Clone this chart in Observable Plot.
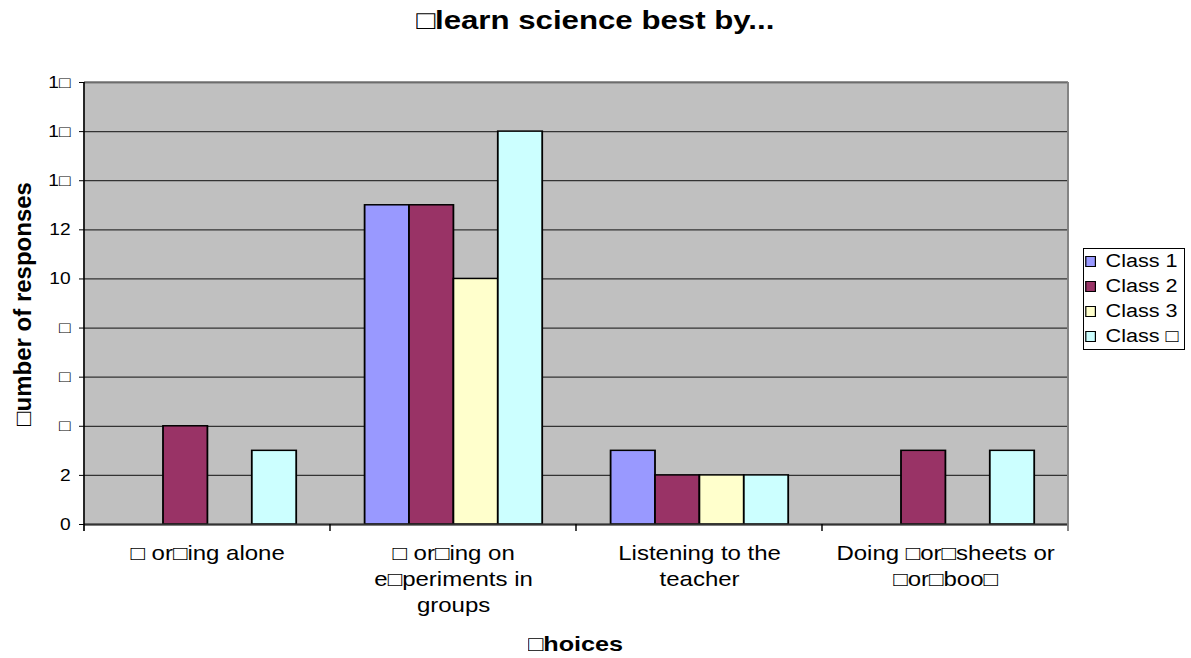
<!DOCTYPE html>
<html>
<head>
<meta charset="utf-8">
<script src="https://cdn.jsdelivr.net/npm/d3@7"></script>
<script src="https://cdn.jsdelivr.net/npm/@observablehq/plot@0.6"></script>
<style>
  body { margin: 0; background: #fff; font-family: "Liberation Sans", Arial, sans-serif; }
  #wrap { position: relative; width: 1191px; height: 658px; overflow: hidden; }
  #wrap svg { position: absolute; left: 0; top: 0; }
  .stretch { display: inline-block; transform: scaleX(1.2); }
  #title { position: absolute; left: 0; top: 7px; width: 1191px; text-align: center;
           font-weight: bold; font-size: 26px; line-height: 26px; color: #000; }
  #xtitle { position: absolute; left: 476px; top: 633px; width: 200px; text-align: center;
            font-weight: bold; font-size: 21px; line-height: 21px; color: #000; }
  #ytitle { position: absolute; left: -177px; top: 292px; width: 400px; text-align: center;
            font-weight: bold; font-size: 24px; line-height: 24px; color: #000;
            transform: rotate(-90deg); transform-origin: 50% 50%; }
  #legend { position: absolute; left: 1083px; top: 248px; width: 100px; height: 100px;
            border: 1px solid #000; background: #fff; overflow: hidden; }
  #legend .inner { transform: scaleX(1.2); transform-origin: 0 0; width: 84px; }
  #legend .row { height: 25px; line-height: 25px; font-size: 18px; white-space: nowrap;
                 display: flex; align-items: center; }
  #legend .sw { width: 7px; height: 9px; border: 1px solid #000; margin-left: 1px; margin-right: 8px; flex: none; }
</style>
</head>
<body>
<div id="wrap">
  <div id="title"><span class="stretch"></span></div>
  <div id="ytitle"></div>
  <div id="xtitle"><span class="stretch"></span></div>
  <div id="legend"><div class="inner"></div></div>
</div>
<script>
// ---- data ----
const titleText = "\u25A1learn science best by...";
const yTitle = "\u25A1umber of responses";
const xTitle = "\u25A1hoices";
const categories = [
  "\u25A1 or\u25A1ing alone",
  "\u25A1 or\u25A1ing on\ne\u25A1periments in\ngroups",
  "Listening to the\nteacher",
  "Doing \u25A1or\u25A1sheets or\n\u25A1or\u25A1boo\u25A1"
];
const classes = ["Class 1", "Class 2", "Class 3", "Class \u25A1"];
const class1 = [0, 13, 3, 0];
const class2 = [4, 13, 2, 3];
const class3 = [0, 10, 2, 0];
const class4 = [3, 16, 2, 3];
const colors = ["#9999FF", "#993366", "#FFFFCC", "#CCFFFF"];
const yTicks = [0, 2, 4, 6, 8, 10, 12, 14, 16, 18];
const yTickLabels = ["0", "2", "\u25A1", "\u25A1", "\u25A1", "10", "12", "1\u25A1", "1\u25A1", "1\u25A1"];

// ---- build ----
const series = [class1, class2, class3, class4];
const rows = categories.flatMap((c, i) => classes.map((k, j) => ({category: c, cls: k, value: series[j][i]})));

const S = 1.2;              // horizontal stretch of the original picture
const W = 1191 / S;
const ML = 83 / S, MR = (1191 - 1069) / S;

const chart = Plot.plot({
  width: W,
  height: 658,
  marginLeft: ML,
  marginRight: MR,
  marginTop: 82,
  marginBottom: 134,
  style: {fontFamily: "'Liberation Sans', Arial, sans-serif", background: "transparent", color: "#000", overflow: "visible"},
  fx: {domain: categories, padding: 0},
  x: {domain: classes, paddingInner: 0, paddingOuter: 0.74, axis: null},
  y: {domain: [0, 18], label: null},
  color: {domain: classes, range: colors},
  marks: [
    Plot.frame({fill: "#C0C0C0", facet: "super"}),
    Plot.gridY(yTicks, {stroke: "#333", strokeOpacity: 1, strokeWidth: 1.3}),
    Plot.barY(rows, {fx: "category", x: "cls", y: "value", fill: "cls", stroke: "#000", strokeWidth: 1.5,
                     filter: d => d.value > 0}),
    Plot.ruleY([0], {stroke: "#333", strokeWidth: 1.8}),
    Plot.axisY({ticks: yTicks, tickFormat: d => yTickLabels[yTicks.indexOf(d)], tickSize: 5 / S,
                tickPadding: 9 / S, fontSize: 16, label: null, stroke: "#000"}),
    Plot.axisFx({anchor: "bottom", tickSize: 0, tickPadding: 17, fontSize: 20, lineHeight: 1.3, label: null})
  ]
});

// axis lines and category boundary ticks, placed with the chart's own scales
const fxS = chart.scale("fx");
const yS = chart.scale("y");
const off = Math.abs(fxS.range[0]) < 1e-6 ? ML : 0;
const edges = categories.map(c => fxS.apply(c) + off);
edges.push(edges[edges.length - 1] + fxS.bandwidth);
const xL = edges[0], xR = edges[edges.length - 1];
const yTop = yS.apply(yTicks[yTicks.length - 1]);
const yBot = yS.apply(0);
const g = d3.select(chart).append("g").attr("fill", "none");
g.append("line").attr("x1", xL).attr("x2", xR)
  .attr("y1", yTop).attr("y2", yTop).attr("stroke", "#808080").attr("stroke-width", 1.6);
g.append("line").attr("x1", xR).attr("x2", xR)
  .attr("y1", yTop).attr("y2", yBot + 7).attr("stroke", "#808080").attr("stroke-width", 1.6);
g.selectAll(".tk").data(edges.slice(1, -1)).join("line")
  .attr("x1", d => d).attr("x2", d => d).attr("y1", yBot).attr("y2", yBot + 7)
  .attr("stroke", "#000").attr("stroke-width", 1.2);
g.append("line").attr("x1", xL).attr("x2", xL)
  .attr("y1", yTop).attr("y2", yBot + 7).attr("stroke", "#000").attr("stroke-width", 1.4);

chart.setAttribute("width", 1191);
chart.setAttribute("height", 658);
chart.setAttribute("preserveAspectRatio", "none");
chart.style.width = "1191px";
chart.style.height = "658px";
chart.style.maxWidth = "none";

const wrap = document.getElementById("wrap");
wrap.insertBefore(chart, wrap.firstChild);

document.querySelector("#title .stretch").textContent = titleText;
document.querySelector("#xtitle .stretch").textContent = xTitle;
document.getElementById("ytitle").textContent = yTitle;

const inner = document.querySelector("#legend .inner");
classes.forEach((k, j) => {
  const row = document.createElement("div");
  row.className = "row";
  const sw = document.createElement("span");
  sw.className = "sw";
  sw.style.background = colors[j];
  const t = document.createElement("span");
  t.textContent = k;
  row.appendChild(sw);
  row.appendChild(t);
  inner.appendChild(row);
});
</script>
</body>
</html>
